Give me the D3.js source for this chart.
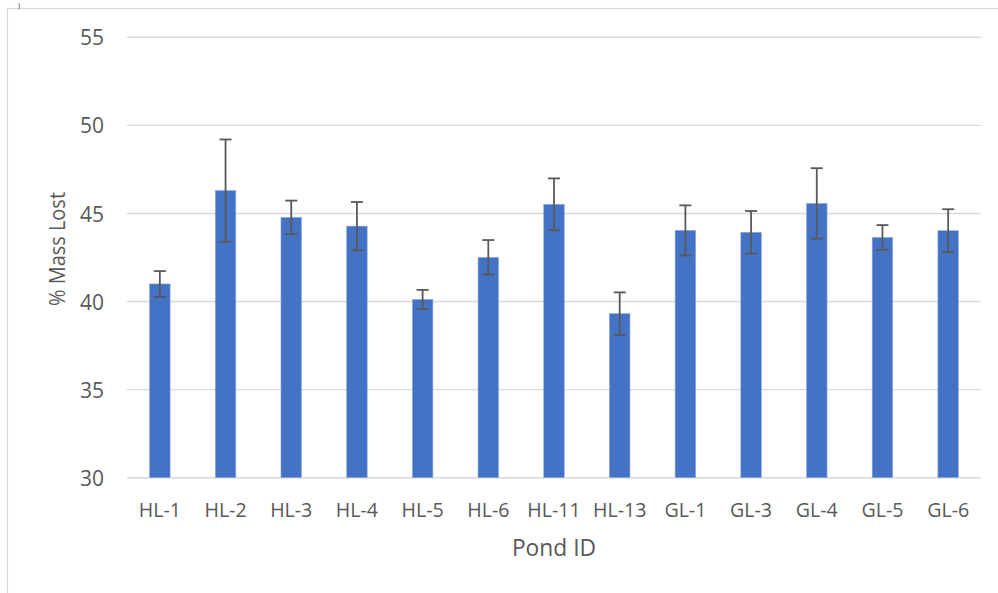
<!DOCTYPE html>
<html>
<head>
<meta charset="utf-8">
<script src="https://cdn.jsdelivr.net/npm/d3@7"></script>
<style>
  html, body { margin: 0; padding: 0; background: #fff; }
  svg { display: block; }
  text { font-family: "Open Sans", sans-serif; fill: #595959; }
</style>
</head>
<body>
<svg id="chart" width="998" height="593"></svg>
<script>
const categories = ["HL-1","HL-2","HL-3","HL-4","HL-5","HL-6","HL-11","HL-13","GL-1","GL-3","GL-4","GL-5","GL-6"];
const values = [41.0, 46.3, 44.78, 44.28, 40.12, 42.51, 45.52, 39.31, 44.04, 43.93, 45.57, 43.64, 44.02];
const errors = [0.73, 2.9, 0.95, 1.37, 0.54, 0.98, 1.47, 1.21, 1.42, 1.21, 2.0, 0.7, 1.22];
const yTicks = [30, 35, 40, 45, 50, 55];
const xTitle = "Pond ID";
const yTitle = "% Mass Lost";

const svg = d3.select("#chart");
const plot = { left: 127, right: 981, top: 37.3, bottom: 477.7 };

// outer frame
svg.append("rect").attr("x", 7.5).attr("y", 8.5).attr("width", 1000).attr("height", 600)
  .attr("fill", "none").attr("stroke", "#d9d9d9").attr("stroke-width", 1.2);
svg.append("text").attr("x", 18).attr("y", 7.5).attr("font-size", 7).style("fill", "#333").text(")");

const x = d3.scaleBand().domain(categories).range([plot.left, plot.right]).paddingInner(0.6875).paddingOuter(0.34375);
const y = d3.scaleLinear().domain([30, 55]).range([plot.bottom, plot.top]);

// gridlines
svg.append("g").selectAll("line").data(yTicks).join("line")
  .attr("x1", plot.left).attr("x2", plot.right)
  .attr("y1", d => y(d)).attr("y2", d => y(d))
  .attr("stroke", "#d9d9d9").attr("stroke-width", 1.4);

// y axis labels
const yAxis = d3.axisLeft(y).tickValues(yTicks).tickSize(0).tickPadding(0);
const gy = svg.append("g").attr("transform", "translate(104,0)").call(yAxis);
gy.select(".domain").remove();
gy.selectAll("text").attr("font-size", 21).attr("dy", "0.36em").style("font-family", "Open Sans").style("fill", "#595959");

// bars
svg.append("g").selectAll("rect").data(categories).join("rect")
  .attr("x", d => x(d)).attr("width", x.bandwidth())
  .attr("y", (d, i) => y(values[i])).attr("height", (d, i) => y(30) - y(values[i]))
  .attr("fill", "#4472C4").attr("stroke", "#8eaadb").attr("stroke-width", 0.6);

// error bars
const eb = svg.append("g").attr("stroke", "#595959").attr("stroke-width", 1.8);
categories.forEach((c, i) => {
  const cx = x(c) + x.bandwidth() / 2;
  const top = y(values[i] + errors[i]), bot = y(values[i] - errors[i]);
  eb.append("line").attr("x1", cx).attr("x2", cx).attr("y1", top).attr("y2", bot);
  eb.append("line").attr("x1", cx - 6).attr("x2", cx + 6).attr("y1", top).attr("y2", top);
  eb.append("line").attr("x1", cx - 6).attr("x2", cx + 6).attr("y1", bot).attr("y2", bot);
});

// x axis labels
const xAxis = d3.axisBottom(x).tickSize(0).tickPadding(0);
const gx = svg.append("g").attr("transform", "translate(0,516.7)").call(xAxis);
gx.select(".domain").remove();
gx.selectAll("text").attr("font-size", 19.6).attr("dy", 0).attr("y", 0)
  .style("font-family", "Open Sans").style("fill", "#595959");

// titles
svg.append("text").attr("x", (plot.left + plot.right) / 2).attr("y", 555.7)
  .attr("text-anchor", "middle").attr("font-size", 22.8).text(xTitle);
svg.append("text").attr("transform", "translate(65,249) rotate(-90)")
  .attr("text-anchor", "middle").attr("font-size", 21)
  .attr("textLength", 114).attr("lengthAdjust", "spacingAndGlyphs").text(yTitle);
</script>
</body>
</html>
